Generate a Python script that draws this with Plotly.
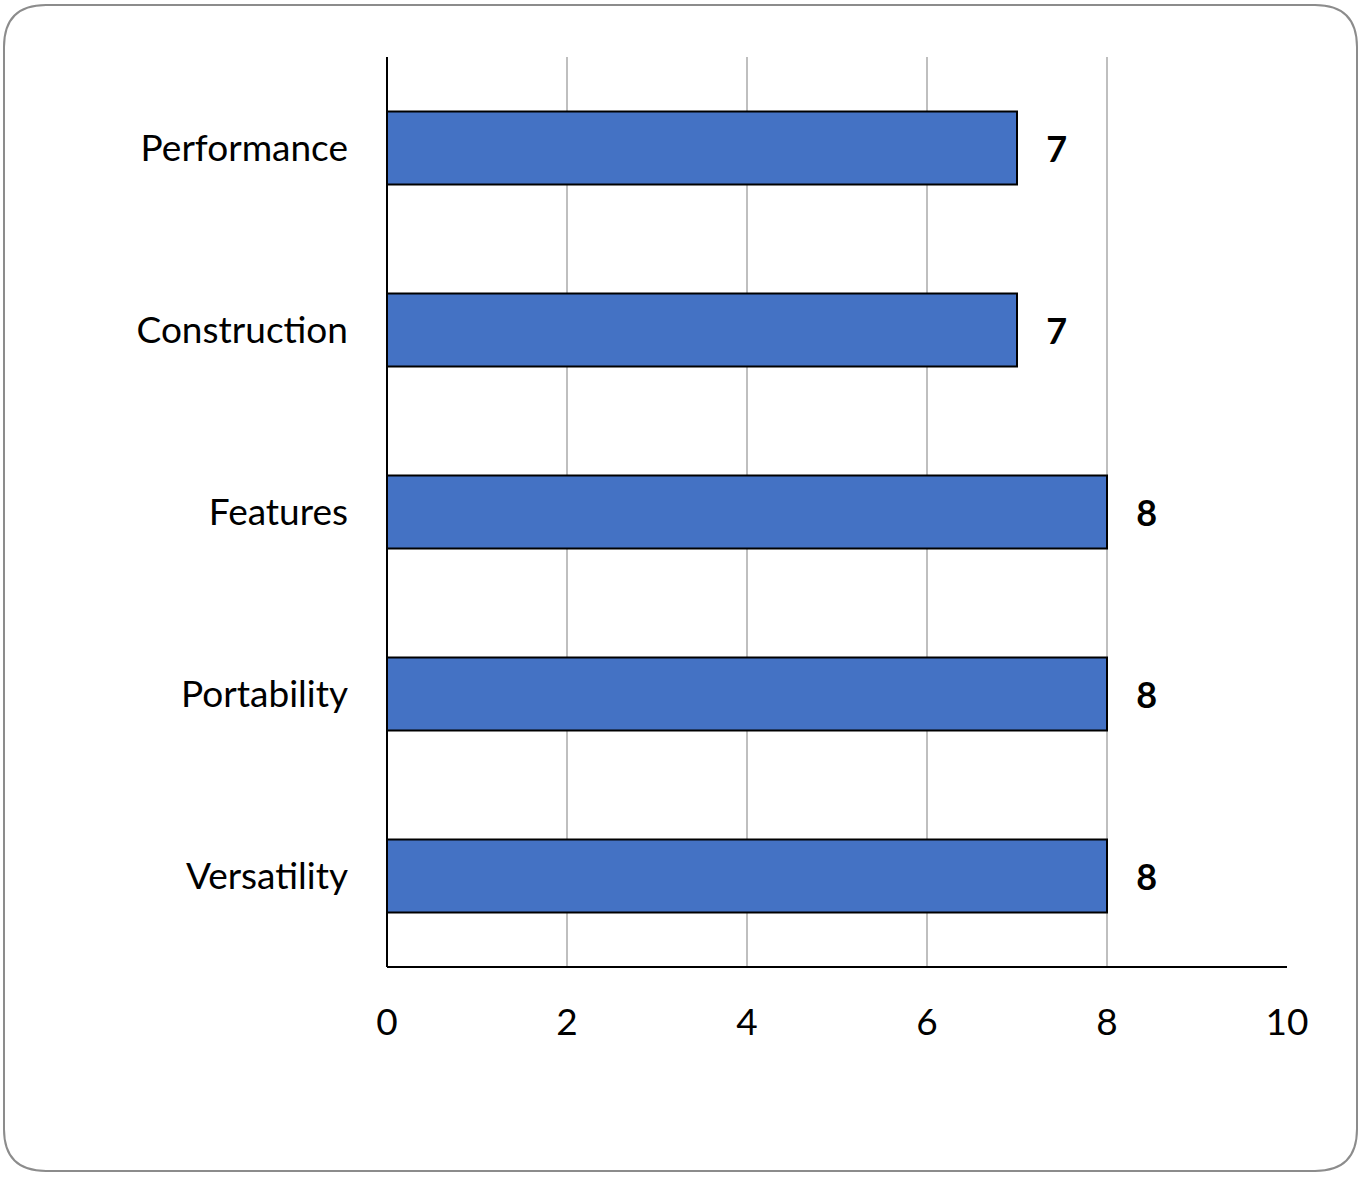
import plotly.graph_objects as go

categories = ["Performance", "Construction", "Features", "Portability", "Versatility"]
scores = [7, 7, 8, 8, 8]
x_ticks = [0, 2, 4, 6, 8, 10]

W, H = 1365, 1177
L, R, T, B = 387, 1287, 57, 967

def px(x, y):
    return (x - L) / (R - L), (B - y) / (B - T)

def rounded_path(x0, y0, x1, y1, r):
    def p(x, y):
        a, b = px(x, y)
        return f"{a:.5f},{b:.5f}"
    d = f"M {p(x0 + r, y0)} L {p(x1 - r, y0)} Q {p(x1, y0)} {p(x1, y0 + r)} "
    d += f"L {p(x1, y1 - r)} Q {p(x1, y1)} {p(x1 - r, y1)} "
    d += f"L {p(x0 + r, y1)} Q {p(x0, y1)} {p(x0, y1 - r)} "
    d += f"L {p(x0, y0 + r)} Q {p(x0, y0)} {p(x0 + r, y0)} Z"
    return d

fig = go.Figure(go.Bar(
    x=scores, y=categories, orientation="h",
    marker=dict(color="#4472C4", line=dict(color="black", width=2)),
    width=0.4,
    text=scores, texttemplate="   %{x}", textposition="outside",
    textfont=dict(family="Lato, sans-serif", size=36, color="black", weight="bold"),
    cliponaxis=False,
))

fig.update_layout(
    width=W, height=H,
    margin=dict(l=L, r=W - R, t=T, b=H - B),
    paper_bgcolor="white", plot_bgcolor="white",
    showlegend=False,
    font=dict(family="Lato, sans-serif", size=37, color="black"),
    xaxis=dict(range=[0, 10], tickvals=x_ticks, showgrid=True, gridcolor="#bfbfbf", gridwidth=1.5,
               zeroline=False, showline=False, ticks="", ticklabelstandoff=30,
               tickfont=dict(size=37)),
    yaxis=dict(categoryorder="array", categoryarray=categories[::-1], showgrid=False,
               showline=False, ticks="", ticklabelstandoff=38, tickfont=dict(size=37)),
    shapes=[
        dict(type="line", xref="paper", yref="paper", x0=0, x1=0, y0=0, y1=1, line=dict(color="black", width=2)),
        dict(type="line", xref="paper", yref="paper", x0=0, x1=1, y0=0, y1=0, line=dict(color="black", width=2)),
        dict(type="path", xref="paper", yref="paper", path=rounded_path(4, 5, 1357, 1171, 42),
             line=dict(color="#8c8c8c", width=2), fillcolor="rgba(0,0,0,0)", layer="below"),
    ],
)

fig.write_html("out.html")
